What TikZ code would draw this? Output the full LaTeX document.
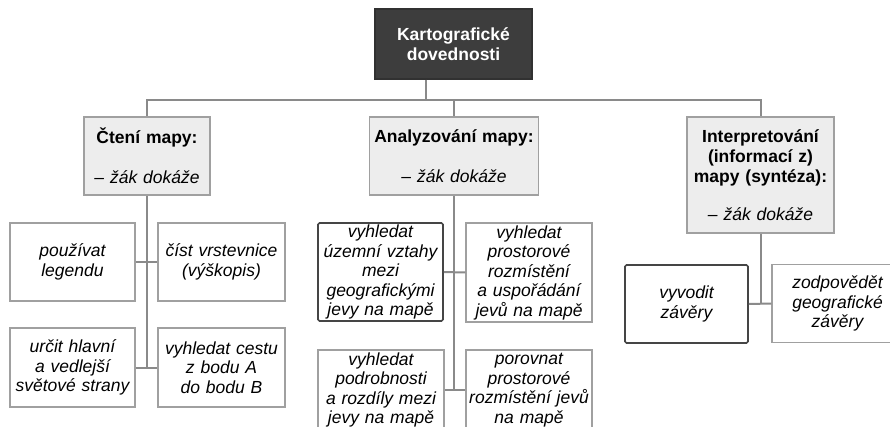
\documentclass[tikz,border=0pt]{standalone}
\usepackage{fontspec}
\setmainfont{Liberation Sans}
\usepackage{xcolor}
\usepackage{tikz}
\definecolor{rootfill}{HTML}{3D3D3D}
\definecolor{headfill}{HTML}{EDEDED}
\definecolor{boxline}{HTML}{A0A0A0}
\definecolor{darkline}{HTML}{454545}
\definecolor{linkgray}{HTML}{8A8A8A}
\newcommand{\zakdokaze}{{\normalfont\itshape -- žák dokáže}}

\begin{document}
\begin{tikzpicture}[
  x=1pt,y=-1pt,
  box/.style={draw=boxline,line width=1.3pt,fill=white,align=center,
    inner xsep=2pt,inner ysep=1pt,text width=121pt,minimum height=78pt,
    font=\fontsize{17.5}{19.5}\selectfont\itshape},
  darkbox/.style={box,draw=darkline,line width=1.6pt,rounded corners=1.5pt},
  head/.style={box,fill=headfill,font=\fontsize{17.5}{20}\selectfont\bfseries},
  root/.style={box,fill=rootfill,draw=rootfill!80!black,text=white,
    text width=153pt,minimum height=70pt,
    font=\fontsize{17.5}{20}\selectfont\bfseries},
  link/.style={draw=linkgray,line width=2pt}
]
\path[use as bounding box,fill=white] (0,0) rectangle (890,427);
\clip (0,0) rectangle (890,427);

\node[root] (root) at (453.5,44) {Kartografické\\dovednosti};
\node[head,text width=122pt] (cteni) at (147,156) {Čtení mapy:\\[20pt]\zakdokaze};
\node[head,text width=165pt] (analyza) at (454,156) {Analyzování mapy:\\[20pt]\zakdokaze};
\node[head,text width=143pt,minimum height=116pt] (interp) at (760.5,175)
  {Interpretování\\(informací z)\\mapy (syntéza):\\[18pt]\zakdokaze};

\node[box] (legenda) at (72.5,262) {používat\\legendu};
\node[box,text width=123pt] (vrstevnice) at (221.5,262) {číst vrstevnice\\(výškopis)};
\node[box,minimum height=79pt] (strany) at (72.5,367.5) {určit hlavní\\a vedlejší\\světové strany};
\node[box,text width=123pt,minimum height=79pt] (cesta) at (221.5,367.5) {vyhledat cestu\\z bodu A\\do bodu B};

\node[darkbox,minimum height=98pt] (uzemni) at (380.5,272)
  {vyhledat\\územní vztahy\\mezi\\geografickými\\jevy na mapě};
\node[box,text width=122pt,minimum height=99pt] (rozmisteni) at (529,272.5)
  {vyhledat\\prostorové\\rozmístění\\a uspořádání\\jevů na mapě};
\node[box,text width=122pt,minimum height=80pt] (podrobnosti) at (381,390)
  {vyhledat\\podrobnosti\\a rozdíly mezi\\jevy na mapě};
\node[box,text width=122pt,minimum height=80pt] (porovnat) at (529,390)
  {porovnat\\prostorové\\rozmístění jevů\\na mapě};

\node[darkbox,text width=119pt] (vyvodit) at (686.5,304) {vyvodit\\závěry};
\node[box,text width=127pt] (zodpovedet) at (837.5,303.5) {zodpovědět\\geografické\\závěry};

\coordinate (bus) at (426,100);
\draw[link] (root.south -| bus) -- (bus);
\draw[link] (cteni.north) |- (bus) -| (interp.north);
\draw[link] (analyza.north) -- (analyza.north |- bus);
\draw[link] (cteni.south) -- (cteni.south |- strany.east);
\draw[link] (legenda.east) -- (vrstevnice.west);
\draw[link] (strany.east) -- (cesta.west);
\draw[link] (analyza.south) -- (analyza.south |- podrobnosti.east);
\draw[link] (uzemni.east) -- (rozmisteni.west);
\draw[link] (podrobnosti.east) -- (porovnat.west);
\draw[link] (interp.south) -- (interp.south |- vyvodit.east);
\draw[link] (vyvodit.east) -- (zodpovedet.west);
\end{tikzpicture}
\end{document}
